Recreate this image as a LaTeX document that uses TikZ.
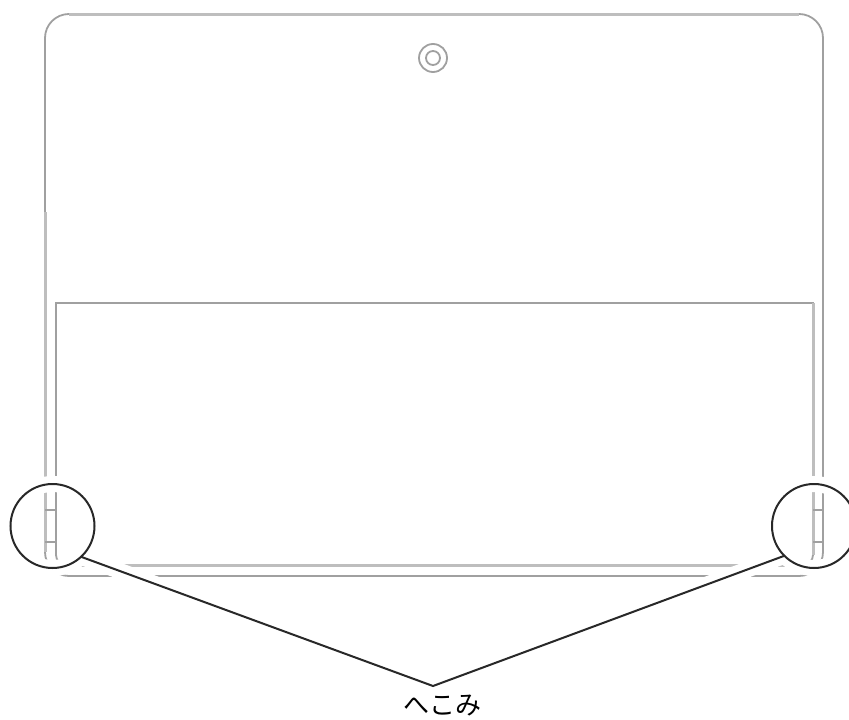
\documentclass[tikz,border=0pt]{standalone}
\usepackage{fontspec}
\newfontfamily\cjk{Noto Sans CJK JP}
\definecolor{bodyColor}{RGB}{160,160,160}
\definecolor{wideColor}{RGB}{190,190,190}
\definecolor{leaderColor}{RGB}{40,40,40}
\tikzstyle{sketch} = [x = 1pt, y = -1pt]
\tikzstyle{bodyLine} = [color=bodyColor, line width=1.8pt]
\tikzstyle{wideLine} = [color=wideColor, line width=3pt]
\tikzstyle{haloLine} = [color=white, line width=16pt]
\tikzstyle{leaderLine} = [color=leaderColor, line width=2pt]
\tikzstyle{dentSpot} = [circle, inner sep=0pt, minimum size=84pt]
\newcommand{\dentTick}[1]{
  \draw [bodyLine] (45,#1) -- (56,#1);
  \draw [bodyLine] (813,#1) -- (823,#1);
}
\begin{document}
\begin{tikzpicture}[sketch]
  \useasboundingbox (0,0) rectangle (849,720);
  % tablet outline
  \draw [bodyLine, rounded corners=24pt] (45,14) rectangle (823,576);
  \draw [wideLine] (69,14) -- (799,14);
  \draw [wideLine] (45,212) -- (45,552);
  \draw [bodyLine] (56,303) [rounded corners=10pt] -- (56,565) -- (813,565) [sharp corners] -- (813,303) -- cycle;
  \draw [wideLine] (66,565) -- (803,565);
  \draw [wideLine] (813,303) -- (813,555);
  \foreach \tickRow in {510,542} {
    \dentTick{\tickRow}
  }
  % camera
  \node [circle, draw=bodyColor, line width=1.8pt, inner sep=0pt, minimum size=28pt] (cameraOuter) at (433,58) {};
  \node [circle, draw=bodyColor, line width=1.8pt, inner sep=0pt, minimum size=14pt] (cameraInner) at (433,58) {};
  % dents
  \node [dentSpot] (leftDent) at (52.5,526) {};
  \node [dentSpot] (rightDent) at (814,526) {};
  \coordinate (apex) at (433,686);
  \draw [haloLine] (leftDent) circle (42pt);
  \draw [haloLine] (rightDent) circle (42pt);
  \draw [haloLine] (leftDent.-47) -- (apex) -- (rightDent.-135);
  \draw [leaderLine] (leftDent) circle (42pt);
  \draw [leaderLine] (rightDent) circle (42pt);
  \draw [leaderLine] (leftDent.-47) -- (apex) -- (rightDent.-135);
  \node [font=\cjk\fontsize{26}{28}\selectfont, inner sep=0pt] (dentLabel) at (442,705.5) {へこみ};
\end{tikzpicture}
\end{document}
